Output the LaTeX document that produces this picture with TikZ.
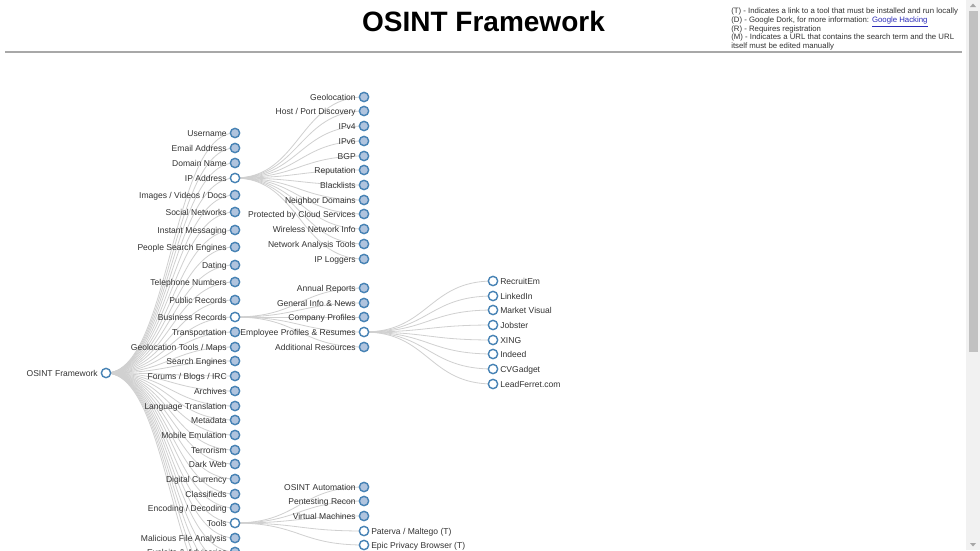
\documentclass[tikz,border=0pt]{standalone}
\usepackage{fontspec}
\setmainfont{Liberation Sans}
\usepackage{xcolor}
\definecolor{NodeFill}{HTML}{B0C4DE}
\definecolor{NodeEdge}{HTML}{4682B4}
\definecolor{LinkGray}{HTML}{D0D0D0}
\definecolor{LabelGray}{HTML}{333333}
\definecolor{RuleGray}{HTML}{A8A8A8}
\definecolor{LinkBlue}{HTML}{2B2BB8}
\definecolor{BarTrack}{HTML}{F1F1F1}
\definecolor{BarThumb}{HTML}{C1C1C1}
\usepackage{tikz}
\usetikzlibrary{positioning, calc, backgrounds}

% d3-style horizontal diagonal between two named nodes
\newcommand{\treelink}[2]{%
  \draw[link] let \p1=(#1.center), \p2=(#2.center) in
    (\p1) .. controls ({(\x1+\x2)/2},\y1) and ({(\x1+\x2)/2},\y2) .. (\p2);
}

\begin{document}
\begin{tikzpicture}[x=0.75pt, y=-0.75pt,
  tnode/.style={circle, draw=NodeEdge, fill=#1, line width=1.05pt,
                minimum size=7pt, inner sep=0pt},
  tnode/.default=NodeFill,
  lbl/.style={font=\fontsize{6.4}{7.5}\selectfont, text=LabelGray, inner sep=0pt},
  link/.style={draw=LinkGray, line width=0.6pt}]
  \useasboundingbox (0,0) rectangle (980,550);

  %% header
  \node[font=\bfseries\fontsize{21}{24}\selectfont] (title) at (483.5,21) {OSINT Framework};
  \node[anchor=north west, align=left, font=\fontsize{5.85}{6.45}\selectfont,
        text=LabelGray, inner sep=0pt] (legend) at (731,8)
    {(T) - Indicates a link to a tool that must be installed and run locally\\
     (D) - Google Dork, for more information: \textcolor{LinkBlue}{\smash{\underline{Google Hacking}}}\\
     (R) - Requires registration\\
     (M) - Indicates a URL that contains the search term and the URL\\
     itself must be edited manually};
  \draw[RuleGray, line width=0.8pt] (5,52) -- (962,52);

  %% scrollbar
  \fill[BarTrack] (966,0) rectangle (980,550);
  \fill[BarThumb] (968.5,11) rectangle (978,352);
  \fill[gray!70] (970,7) -- (976,7) -- (973,3.5) -- cycle;
  \fill[gray!70] (970,543) -- (976,543) -- (973,546.5) -- cycle;

  %% root
  \node[tnode=white] (osint) at (106,373) {};
  \node[lbl, anchor=base east] (osint-l) at (98,376) {OSINT Framework};

  %% first level
  \foreach \y/\f/\txt [count=\i] in {
    133/NodeFill/Username, 148/NodeFill/Email Address, 163/NodeFill/Domain Name,
    178/white/IP Address, 195/NodeFill/{Images / Videos / Docs},
    212/NodeFill/Social Networks, 230/NodeFill/Instant Messaging,
    247/NodeFill/People Search Engines, 265/NodeFill/Dating,
    282/NodeFill/Telephone Numbers, 300/NodeFill/Public Records,
    317/white/Business Records, 332/NodeFill/Transportation,
    347/NodeFill/{Geolocation Tools / Maps}, 361/NodeFill/Search Engines,
    376/NodeFill/{Forums / Blogs / IRC}, 391/NodeFill/Archives,
    406/NodeFill/Language Translation, 420/NodeFill/Metadata,
    435/NodeFill/Mobile Emulation, 450/NodeFill/Terrorism, 464/NodeFill/Dark Web,
    479/NodeFill/Digital Currency, 494/NodeFill/Classifieds,
    508/NodeFill/{Encoding / Decoding}, 523/white/Tools,
    538/NodeFill/Malicious File Analysis, 552/NodeFill/Exploits \& Advisories}{
    \node[tnode=\f] (c\i) at (235,\y) {};
    \node[lbl, anchor=base east] (c\i-l) at (227,\y+3) {\txt};
  }
  % rest of the first level lies below the page
  \foreach \y [count=\i from 29] in {567,581,596,611}
    \coordinate (c\i) at (235,\y);

  %% IP Address
  \foreach \y/\txt [count=\i] in {
    97/Geolocation, 111/{Host / Port Discovery}, 126/IPv4, 141/IPv6, 156/BGP,
    170/Reputation, 185/Blacklists, 200/Neighbor Domains,
    214/Protected by Cloud Services, 229/Wireless Network Info,
    244/Network Analysis Tools, 259/IP Loggers}{
    \node[tnode] (ip\i) at (364,\y) {};
    \node[lbl, anchor=base east] (ip\i-l) at (356,\y+3) {\txt};
  }

  %% Business Records
  \foreach \y/\f/\txt [count=\i] in {
    288/NodeFill/Annual Reports, 303/NodeFill/General Info \& News,
    317/NodeFill/Company Profiles, 332/white/Employee Profiles \& Resumes,
    347/NodeFill/Additional Resources}{
    \node[tnode=\f] (br\i) at (364,\y) {};
    \node[lbl, anchor=base east] (br\i-l) at (356,\y+3) {\txt};
  }

  %% Employee Profiles & Resumes
  \foreach \y/\txt [count=\i] in {
    281/RecruitEm, 296/LinkedIn, 310/Market Visual, 325/Jobster, 340/XING,
    354/Indeed, 369/CVGadget, 384/LeadFerret.com}{
    \node[tnode=white] (emp\i) at (493,\y) {};
    \node[lbl, anchor=base west] (emp\i-l) at (500,\y+3) {\txt};
  }

  %% Tools
  \foreach \y/\txt [count=\i] in {
    487/OSINT Automation, 501/Pentesting Recon, 516/Virtual Machines}{
    \node[tnode] (tl\i) at (364,\y) {};
    \node[lbl, anchor=base east] (tl\i-l) at (356,\y+3) {\txt};
  }
  \node[tnode=white] (tl4) at (364,531) {};
  \node[lbl, anchor=base west] (tl4-l) at (371,534) {Paterva / Maltego (T)};
  \node[tnode=white] (tl5) at (364,545) {};
  \node[lbl, anchor=base west] (tl5-l) at (371,548) {Epic Privacy Browser (T)};

  %% links
  \begin{scope}[on background layer]
    \fill[white] (0,0) rectangle (966,550);
    \foreach \i in {1,...,32} \treelink{osint}{c\i};
    \foreach \i in {1,...,12} \treelink{c4}{ip\i};
    \foreach \i in {1,...,5}  \treelink{c12}{br\i};
    \foreach \i in {1,...,8}  \treelink{br4}{emp\i};
    \foreach \i in {1,...,5}  \treelink{c26}{tl\i};
  \end{scope}
\end{tikzpicture}
\end{document}
